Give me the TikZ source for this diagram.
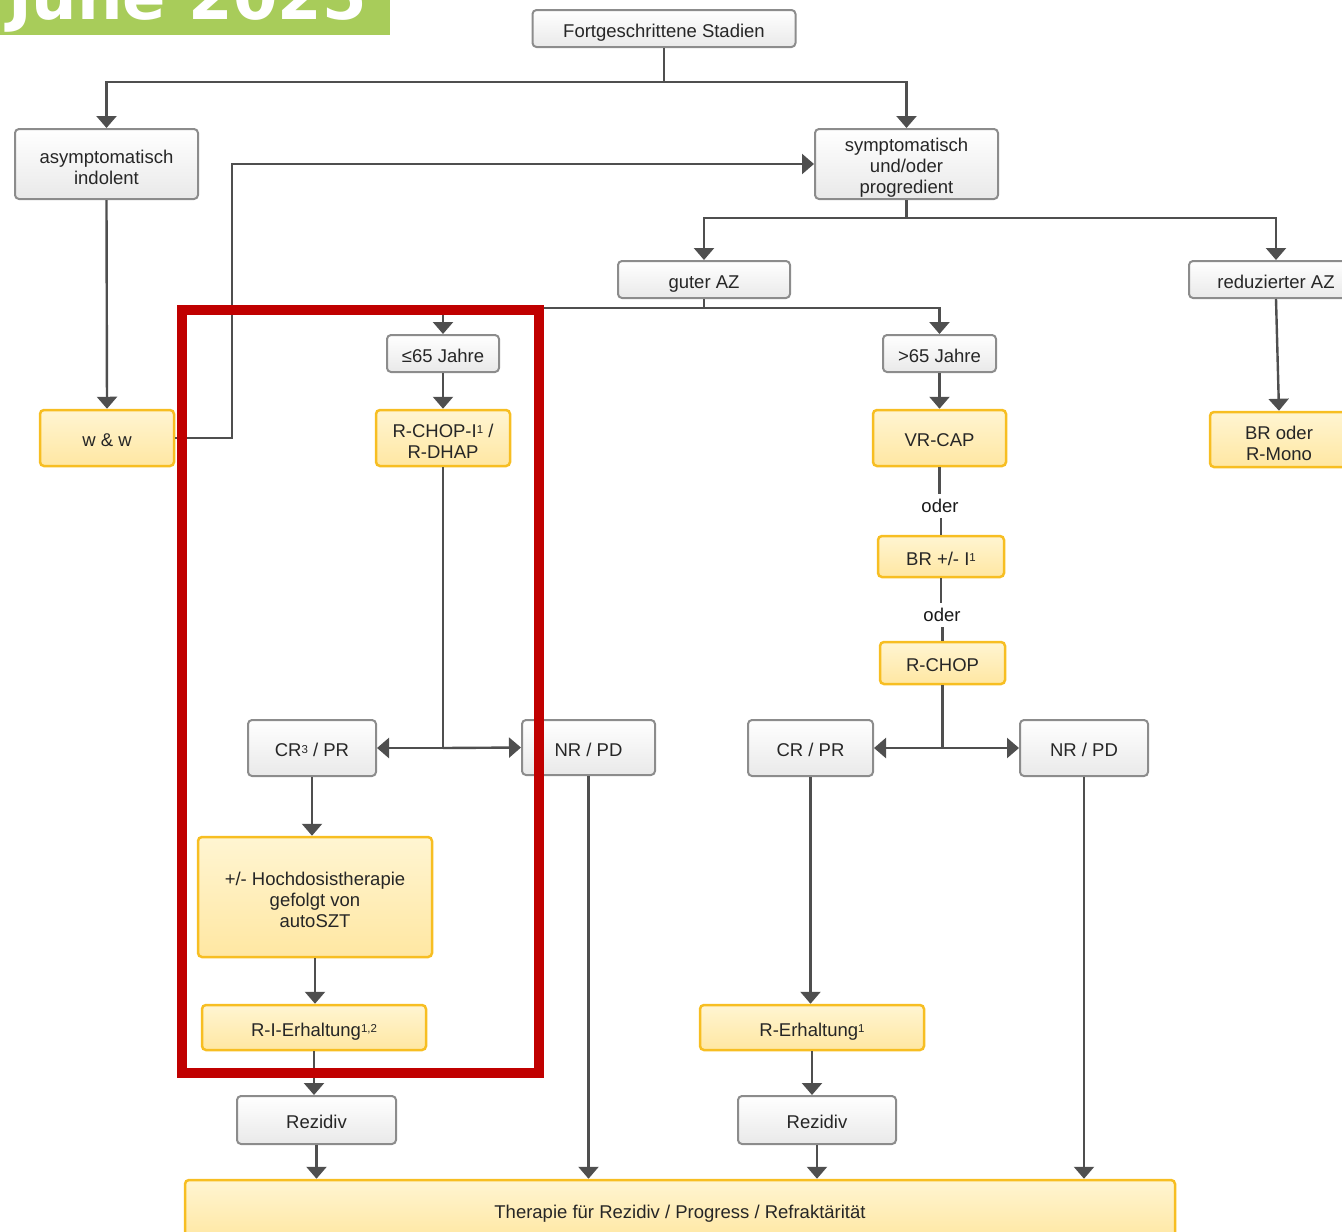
\documentclass[tikz,border=0pt]{standalone}
\usepackage{fontspec}
\setmainfont{Liberation Sans}
\newfontfamily\bannerfont{DejaVu Sans}
\usetikzlibrary{arrows.meta}
\definecolor{lineg}{HTML}{4F4F4F}
\definecolor{boxg}{HTML}{8C8C8C}
\definecolor{ybord}{HTML}{F7BE22}
\definecolor{ytop}{HTML}{FFF5D2}
\definecolor{ybot}{HTML}{FFE7A2}
\definecolor{gbot}{HTML}{E9E9E9}
\definecolor{bgreen}{HTML}{A8CC5A}
\definecolor{redframe}{HTML}{C00000}
\newcommand\supnum[1]{\raisebox{3.5pt}{\fontsize{11.5}{11.5}\selectfont #1}}
\tikzset{
  base/.style={rounded corners=4pt, align=center, inner sep=0pt,
    font=\fontsize{18.5}{21}\selectfont, text=black!85,
    execute at begin node={\rule[-5pt]{0pt}{27pt}}},
  gbox/.style={base, draw=boxg, line width=2pt, top color=white, bottom color=gbot},
  ybox/.style={base, draw=ybord, line width=2.5pt, top color=ytop, bottom color=ybot},
  mltext/.style={align=center, inner sep=0pt, font=\fontsize{18.5}{21}\selectfont,
    text=black!85, yshift=-3pt},
  conn/.style={draw=lineg, line width=2.4pt},
  arr/.style={conn, -{Triangle[width=20pt,length=12pt]}},
  odertxt/.style={font=\fontsize{18.5}{21}\selectfont, text=black!90, inner sep=5pt}
}
\begin{document}
\begin{tikzpicture}[x=1pt,y=-1pt]
\useasboundingbox (0,0) rectangle (1342,1232);
% banner
\fill[bgreen] (0,-10) rectangle (390,35);
\node[anchor=base east, inner sep=0pt, text=white, font=\bannerfont\bfseries\fontsize{64}{70}\selectfont] (banner) at (367,19) {June 2025};
% nodes
\node[gbox, minimum width=263pt, minimum height=37pt] (fs) at (664,28.5) {Fortgeschrittene Stadien};
\node[gbox, minimum width=183pt, minimum height=70pt, label={[mltext]center:{asymptomatisch\\indolent}}] (asy) at (106.5,164) {};
\node[gbox, minimum width=183pt, minimum height=70pt, label={[mltext, yshift=-1pt]center:{symptomatisch\\und/oder\\progredient}}] (sym) at (906.5,164) {};
\node[gbox, minimum width=172pt, minimum height=37pt] (gut) at (704,279.5) {guter AZ};
\node[gbox, minimum width=174pt, minimum height=37pt] (red) at (1276,279.5) {reduzierter AZ};
\node[gbox, minimum width=112pt, minimum height=37pt] (u65) at (443,353.5) {≤65 Jahre};
\node[gbox, minimum width=113pt, minimum height=37pt] (o65) at (939.5,353.5) {>65 Jahre};
\node[ybox, minimum width=134pt, minimum height=56pt] (ww) at (107,438) {w \& w};
\node[ybox, minimum width=134pt, minimum height=56pt, label={[mltext]center:{R-CHOP-I\supnum{1} /\\R-DHAP}}] (rchopi) at (443,438) {};
\node[ybox, minimum width=133pt, minimum height=56pt] (vrcap) at (939.5,438) {VR-CAP};
\node[ybox, minimum width=138pt, minimum height=55pt, label={[mltext, yshift=-1pt]center:{BR oder\\R-Mono}}] (brmono) at (1279,439.5) {};
\node[odertxt] (oder1) at (940,506) {oder};
\node[ybox, minimum width=126pt, minimum height=41pt] (brI) at (941,556.5) {BR +/- I\supnum{1}};
\node[odertxt] (oder2) at (942,615) {oder};
\node[ybox, minimum width=125pt, minimum height=42pt] (rchop) at (942.5,663) {R-CHOP};
\node[gbox, minimum width=128pt, minimum height=56pt] (cr1) at (312,748) {CR\supnum{3} / PR};
\node[gbox, minimum width=133pt, minimum height=55pt] (nr1) at (588.5,747.5) {NR / PD};
\node[gbox, minimum width=125pt, minimum height=56pt] (cr2) at (810.5,748) {CR / PR};
\node[gbox, minimum width=128pt, minimum height=56pt] (nr2) at (1084,748) {NR / PD};
\node[ybox, minimum width=234pt, minimum height=120pt, label={[mltext]center:{+/- Hochdosistherapie\\gefolgt von\\autoSZT}}] (hd) at (315,897) {};
\node[ybox, minimum width=224pt, minimum height=45pt] (rie) at (314,1027.5) {R-I-Erhaltung\supnum{1,2}};
\node[ybox, minimum width=224pt, minimum height=45pt] (re) at (812,1027.5) {R-Erhaltung\supnum{1}};
\node[gbox, minimum width=159pt, minimum height=48pt] (rez1) at (316.5,1120) {Rezidiv};
\node[gbox, minimum width=158pt, minimum height=48pt] (rez2) at (817,1120) {Rezidiv};
\node[ybox, minimum width=990pt, minimum height=60pt] (ther) at (680,1210) {Therapie für Rezidiv / Progress / Refraktärität};
% junctions
\coordinate (j1) at (664,82);
\coordinate (j2) at (906.5,218);
\coordinate (j3) at (704,308);
\coordinate (j4) at (232,164);
\coordinate (j5) at (rchopi.south |- cr1.east);
\coordinate (j6) at (rchop.south |- cr2.east);
% connectors
\draw[conn] (fs.south) -- (j1);
\draw[arr] (j1) -| (asy.north);
\draw[arr] (j1) -| (sym.north);
\draw[arr] (asy.south) -- (ww.north);
\draw[arr] (ww.east) -| (j4) -- (sym.west);
\draw[conn] (sym.south) -- (j2);
\draw[arr] (j2) -| (gut.north);
\draw[arr] (j2) -| (red.north);
\draw[conn] (gut.south) -- (j3);
\draw[arr] (j3) -| (u65.north);
\draw[arr] (j3) -| (o65.north);
\draw[arr] (u65.south) -- (rchopi.north);
\draw[arr] (o65.south) -- (vrcap.north);
\draw[arr] (red.south) -- (brmono.north);
\draw[conn] (vrcap.south) -- (vrcap.south |- oder1.north);
\draw[conn] (brI.north |- oder1.south) -- (brI.north);
\draw[conn] (brI.south) -- (brI.south |- oder2.north);
\draw[conn] (rchop.north |- oder2.south) -- (rchop.north);
\draw[conn] (rchopi.south) -- (j5);
\draw[arr] (j5) -- (cr1.east);
\draw[arr] (j5) -- (nr1.west);
\draw[conn] (rchop.south) -- (j6);
\draw[arr] (j6) -- (cr2.east);
\draw[arr] (j6) -- (nr2.west);
\draw[arr] (cr1.south) -- (cr1.south |- hd.north);
\draw[arr] (hd.south) -- (hd.south |- rie.north);
\draw[arr] (rie.south) -- (rie.south |- rez1.north);
\draw[arr] (rez1.south) -- (rez1.south |- ther.north);
\draw[arr] (nr1.south) -- (nr1.south |- ther.north);
\draw[arr] (cr2.south) -- (cr2.south |- re.north);
\draw[arr] (re.south) -- (re.south |- rez2.north);
\draw[arr] (rez2.south) -- (rez2.south |- ther.north);
\draw[arr] (nr2.south) -- (nr2.south |- ther.north);
% red frame
\draw[redframe, line width=10pt] (182,310) rectangle (539,1073);
\end{tikzpicture}
\end{document}
